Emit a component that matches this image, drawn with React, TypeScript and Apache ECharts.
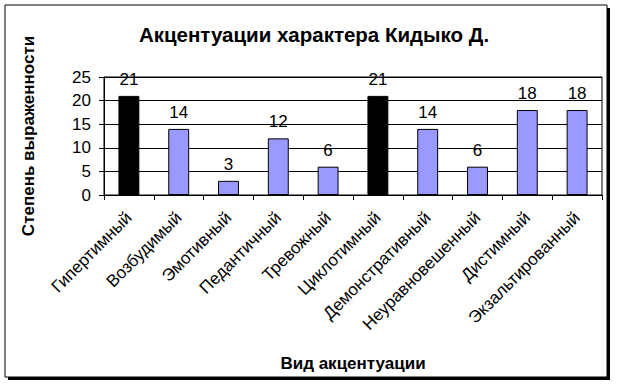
import React, { useEffect, useRef } from "react";
import * as echarts from "echarts";

const categories = [
  "Гипертимный",
  "Возбудимый",
  "Эмотивный",
  "Педантичный",
  "Тревожный",
  "Циклотимный",
  "Демонстративный",
  "Неуравновешенный",
  "Дистимный",
  "Экзальтированный",
];
const values = [21, 14, 3, 12, 6, 21, 14, 6, 18, 18];
const highlighted = [true, false, false, false, false, true, false, false, false, false];
const yTicks = [0, 5, 10, 15, 20, 25];

const FONT = "Arial, 'Liberation Sans', sans-serif";

export default function App() {
  const ref = useRef<HTMLDivElement>(null);
  useEffect(() => {
    if (!ref.current) return;
    const chart = echarts.init(ref.current, undefined, { renderer: "svg" });
    chart.setOption({
      animation: false,
      backgroundColor: "#ffffff",
      title: {
        text: "Акцентуации характера Кидыко Д.",
        left: 309,
        textAlign: "center",
        top: 19,
        textStyle: { fontFamily: FONT, fontSize: 20.5, fontWeight: "bold", color: "#000" },
      },
      graphic: [
        { type: "rect", shape: { x: 8, y: 8, width: 602, height: 372 }, style: { fill: "#000" }, z: -10 },
        { type: "rect", shape: { x: 5, y: 5, width: 602, height: 372 }, style: { fill: "#fff", stroke: "#000", lineWidth: 1 }, z: -9 },
      ],
      grid: {
        left: 104,
        right: 15,
        top: 77,
        height: 118,
        show: true,
        borderColor: "#000",
        borderWidth: 1,
        backgroundColor: "transparent",
      },
      xAxis: {
        type: "category",
        data: categories,
        name: "Вид акцентуации",
        nameLocation: "middle",
        nameGap: 160,
        nameTextStyle: { fontFamily: FONT, fontSize: 17, fontWeight: "bold", color: "#000" },
        axisLine: { lineStyle: { color: "#000", width: 1 } },
        axisTick: { show: true, length: 5, lineStyle: { color: "#000" } },
        axisLabel: {
          rotate: 45,
          interval: 0,
          margin: 20,
          fontFamily: FONT,
          fontSize: 17,
          color: "#000",
        },
      },
      yAxis: {
        type: "value",
        min: 0,
        max: 25,
        interval: 5,
        name: "Степень выраженности",
        nameLocation: "middle",
        nameGap: 67,
        nameTextStyle: { fontFamily: FONT, fontSize: 17, fontWeight: "bold", color: "#000" },
        axisLine: { show: true, lineStyle: { color: "#000", width: 1 } },
        axisTick: { show: true, length: 5, lineStyle: { color: "#000" } },
        axisLabel: {
          margin: 13,
          fontFamily: FONT,
          fontSize: 17,
          color: "#000",
          formatter: (v: number) => (yTicks.includes(v) ? String(v) : ""),
        },
        splitLine: { show: true, lineStyle: { color: "#000", width: 1 } },
      },
      series: [
        {
          type: "bar",
          barWidth: "42%",
          data: values.map((v, i) => ({
            value: v,
            itemStyle: {
              color: highlighted[i] ? "#000000" : "#9999FF",
              borderColor: "#000",
              borderWidth: 1,
            },
          })),
          label: {
            show: true,
            position: "top",
            distance: 8,
            fontFamily: FONT,
            fontSize: 17,
            color: "#000",
          },
        },
      ],
    });
    return () => chart.dispose();
  }, []);
  return (
    <div
      ref={ref}
      style={{ position: "fixed", left: 0, top: 0, width: 617, height: 384 }}
    />
  );
}
